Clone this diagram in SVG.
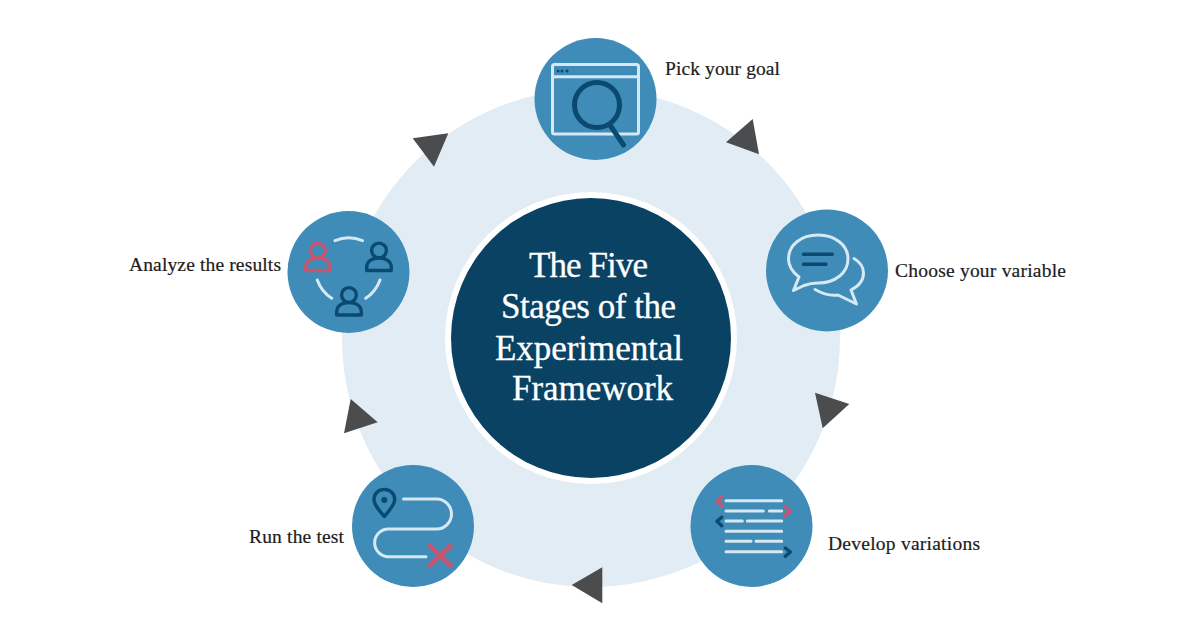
<svg xmlns="http://www.w3.org/2000/svg" width="1200" height="630" viewBox="0 0 1200 630">
  <style>
    .disc { fill: #3f8cb9; }
    .light { fill: none; stroke: #d6e8f2; stroke-width: 3; stroke-linecap: round; stroke-linejoin: round; }
    .navy { fill: none; stroke: #0b4a70; stroke-width: 3.4; stroke-linecap: round; stroke-linejoin: round; }
    .pink { fill: none; stroke: #c9566f; stroke-width: 3.4; stroke-linecap: round; stroke-linejoin: round; }
    .label { font-family: "Liberation Serif", "DejaVu Serif", serif; font-size: 19.5px; fill: #1c1c1c; stroke: #1c1c1c; stroke-width: 0.2; }
    .title { font-family: "Liberation Serif", "DejaVu Serif", serif; font-size: 35px; fill: #ffffff; stroke: #ffffff; stroke-width: 0.3; text-anchor: middle; }
    .arrow { fill: #4a4c4e; }
  </style>
  <defs>
    <g id="person">
      <circle cx="0" cy="-11" r="7.4"/>
      <path d="M-12.3 9 V6 C-12.3 -1 -6 -3.5 0 -3.5 C6 -3.5 12.3 -1 12.3 6 V9 Z"/>
    </g>
  </defs>
  <rect width="1200" height="630" fill="#ffffff"/>

  <circle id="ring" cx="591" cy="338" r="249" fill="#e2ecf4"/>

  <g id="center">
    <circle cx="591" cy="338" r="146" fill="#ffffff"/>
    <circle cx="591" cy="338" r="140" fill="#0a4263"/>
    <text class="title" x="588.500" y="277" textLength="119">The Five</text>
    <text class="title" x="588.500" y="318" textLength="175">Stages of the</text>
    <text class="title" x="589" y="360" textLength="188">Experimental</text>
    <text class="title" x="592.500" y="400" textLength="161">Framework</text>
  </g>

  <g id="connectors">
    <polygon class="arrow" points="412.7,138.3 448.3,133.3 434,166.7"/>
    <polygon class="arrow" points="752.7,119 726,142.3 759,154.3"/>
    <polygon class="arrow" points="815,392.7 849.3,404 822.7,428.3"/>
    <polygon class="arrow" points="602.3,567.3 571.7,585 602.3,603.3"/>
    <polygon class="arrow" points="350.7,399 377.7,422.3 344,433.3"/>
  </g>

  <g id="node-goal">
    <circle class="disc" cx="595.500" cy="99" r="61"/>
    <rect class="light" x="552.500" y="64.500" width="86" height="69.500" rx="2"/>
    <path class="light" d="M553 76.700 H638"/>
    <circle cx="558" cy="71" r="1.500" fill="#0b4a70"/>
    <circle cx="562" cy="71" r="1.500" fill="#0b4a70"/>
    <circle cx="567" cy="71" r="1.500" fill="#0b4a70"/>
    <circle class="navy" style="stroke-width:5" cx="597" cy="105" r="22.500"/>
    <path class="navy" style="stroke-width:5" d="M610 125 L623.500 145"/>
    <text class="label" x="665" y="75" textLength="115">Pick your goal</text>
  </g>

  <g id="node-variable">
    <circle class="disc" cx="827" cy="270.500" r="61"/>
    <path class="light" d="M799 277 C792.500 272 788.500 266 788.500 259 C788.500 245 801 235 818 235 C835 235 848 245 848 259 C848 273 835 283 818 283 C813 283 808 284 804 285.500 L793.500 290.500 Z"/>
    <path class="light" d="M854 258.500 C860 262 863.500 267 863.500 273 C863.500 280 859 286 851 290 L856.500 304 L838 295 C830 296 822 293.500 815 289.500"/>
    <path class="navy" d="M803.500 254.300 H832.300 M803.500 264.300 H826"/>
    <text class="label" x="895" y="277" textLength="171">Choose your variable</text>
  </g>

  <g id="node-variations">
    <circle class="disc" cx="751.500" cy="526" r="61"/>
    <path class="light" d="M726 500.700 H781.700 M726 511 H763.300 M769.300 511 H781.700 M726 521 H742.300 M747.300 521 H781.700 M726 531.300 H781.700 M726 541.300 H751 M756 541.300 H781.700 M726 551.700 H781.700"/>
    <path class="pink" d="M721.700 496.700 L717.300 501 L721.700 505.700 M785.300 506.700 L790 511 L785.300 515.700"/>
    <path class="navy" d="M721.700 517.300 L717 521.300 L721.700 525.700 M785.300 548 L790.300 552 L785.300 556.300"/>
    <text class="label" x="828" y="550" textLength="152">Develop variations</text>
  </g>

  <g id="node-test">
    <circle class="disc" cx="413" cy="526" r="61"/>
    <path class="navy" d="M384.300 516.500 C379 510 374 505 374 499.500 C374 493.500 378.500 489.500 384.300 489.500 C390 489.500 394.700 493.500 394.700 499.500 C394.700 505 389.500 510 384.300 516.500 Z"/>
    <circle cx="384.300" cy="500" r="3" fill="#0b4a70"/>
    <path class="light" d="M403.500 499 H436.500 A15 15 0 0 1 436.500 529 H388.500 A13.800 13.800 0 0 0 388.500 556.700 H426"/>
    <path class="pink" style="stroke-width:4.500" d="M430 545.700 L450.700 565.700 M450.700 545.700 L430 565.700"/>
    <text class="label" x="249" y="543" textLength="95">Run the test</text>
  </g>

  <g id="node-results">
    <circle class="disc" cx="348.500" cy="272" r="61"/>
    <path class="light" d="M335 240.700 A36 36 0 0 1 362.500 240.700 M317.300 280 A36 36 0 0 0 331.700 298.300 M380 280 A36 36 0 0 1 365.700 298.300"/>
    <use href="#person" class="pink" x="317.800" y="261.500"/>
    <use href="#person" class="navy" x="379" y="261.500"/>
    <use href="#person" class="navy" x="349" y="306"/>
    <text class="label" x="129" y="271" textLength="152">Analyze the results</text>
  </g>
</svg>
